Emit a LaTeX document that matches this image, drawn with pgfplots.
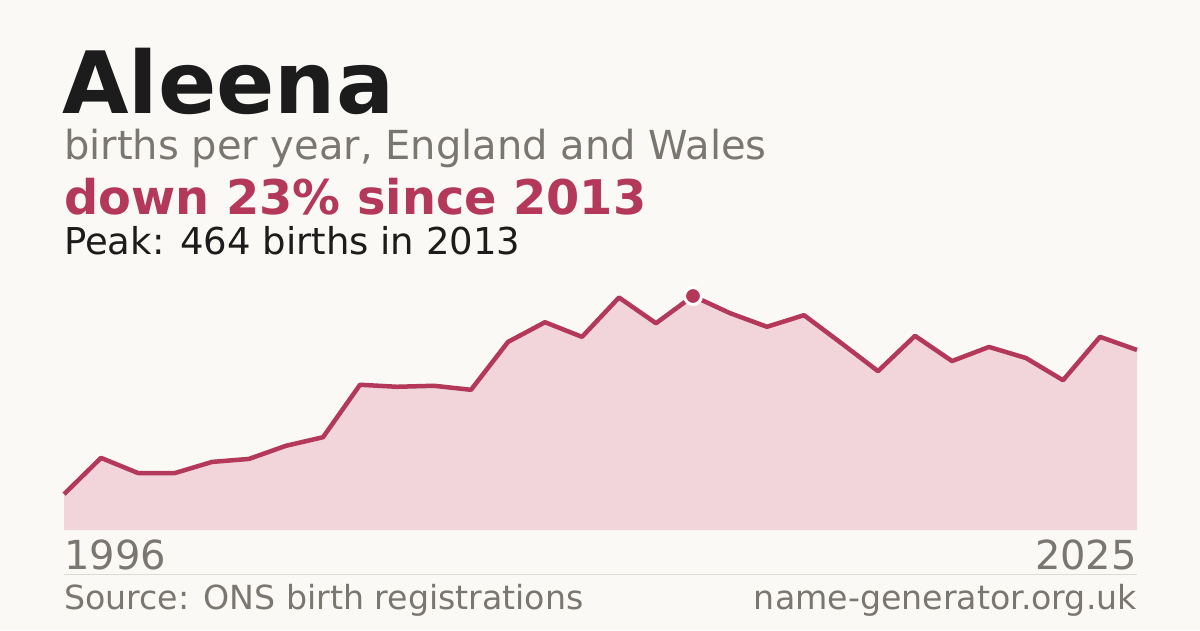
\documentclass[border=0pt]{standalone}
\usepackage{fontspec}
\setmainfont{DejaVu Sans}
\usepackage{pgfplots}
\pgfplotsset{compat=1.18}
\definecolor{bgc}{HTML}{FAF9F5}
\definecolor{ink}{HTML}{1C1C1C}
\definecolor{muted}{HTML}{7A7670}
\definecolor{accent}{HTML}{B3385A}
\definecolor{areafill}{HTML}{F1D5DA}
\definecolor{rule}{HTML}{DDDAD3}

\pgfplotstableread{
year births
1996 71
1997 143
1998 113
1999 113
2000 135
2001 141
2002 167
2003 184
2004 288
2005 284
2006 286
2007 278
2008 373
2009 412
2010 383
2011 461
2012 410
2013 464
2014 430
2015 403
2016 426
2017 371
2018 315
2019 385
2020 335
2021 363
2022 341
2023 297
2024 383
2025 357
}\births

\begin{document}
\begin{tikzpicture}
  \begin{scope}[x=1pt,y=1pt]
  % canvas, 1 unit = 1 px, y grows downward via negative coords
  \fill[bgc] (0,0) rectangle (1200,-630);

  % headline block
  \node[anchor=base west, inner sep=0, text=ink, font=\fontsize{86}{86}\selectfont\bfseries]
    at (62,-113) {Aleena};
  \node[anchor=base west, inner sep=0, text=muted, font=\fontsize{40}{40}\selectfont]
    at (64,-159) {births per year, England and Wales};
  \node[anchor=base west, inner sep=0, text=accent, font=\fontsize{47.8}{48}\selectfont\bfseries]
    at (64,-214) {down 23\% since 2013};
  \node[anchor=base west, inner sep=0, text=ink, font=\fontsize{37}{37}\selectfont]
    at (64,-254) {Peak: 464 births in 2013};
  \end{scope}

  \begin{axis}[
    at={(64pt,-530pt)}, anchor=south west,
    width=1073pt, height=234pt,
    scale only axis,
    xmin=1996, xmax=2025,
    ymin=0, ymax=464,
    hide axis,
    clip=false,
  ]
  % shaded area under the series
  \addplot[draw=none, fill=areafill] table[x=year, y=births] {\births} \closedcycle;
  % the series itself
  \addplot[accent, line width=4.5pt, line join=round, mark=none]
    table[x=year, y=births] {\births};
  % peak marker
  \addplot[only marks, mark=*, mark size=8.5pt,
    mark options={fill=accent, draw=white, line width=3pt}]
    coordinates {(2013,464)};
  \end{axis}

  \begin{scope}[x=1pt,y=1pt]
  % x extremes, rule and footer
  \node[anchor=base west, inner sep=0, text=muted, font=\fontsize{40}{40}\selectfont]
    at (64,-569) {1996};
  \node[anchor=base east, inner sep=0, text=muted, font=\fontsize{40}{40}\selectfont]
    at (1137,-569) {2025};
  \draw[rule, line width=1pt] (64,-574.5) -- (1137,-574.5);
  \node[anchor=base west, inner sep=0, text=muted, font=\fontsize{33.2}{33}\selectfont]
    at (64,-609) {Source: ONS birth registrations};
  \node[anchor=base east, inner sep=0, text=muted, font=\fontsize{33.2}{33}\selectfont]
    at (1137,-609) {name-generator.org.uk};
  \end{scope}
\end{tikzpicture}
\end{document}
